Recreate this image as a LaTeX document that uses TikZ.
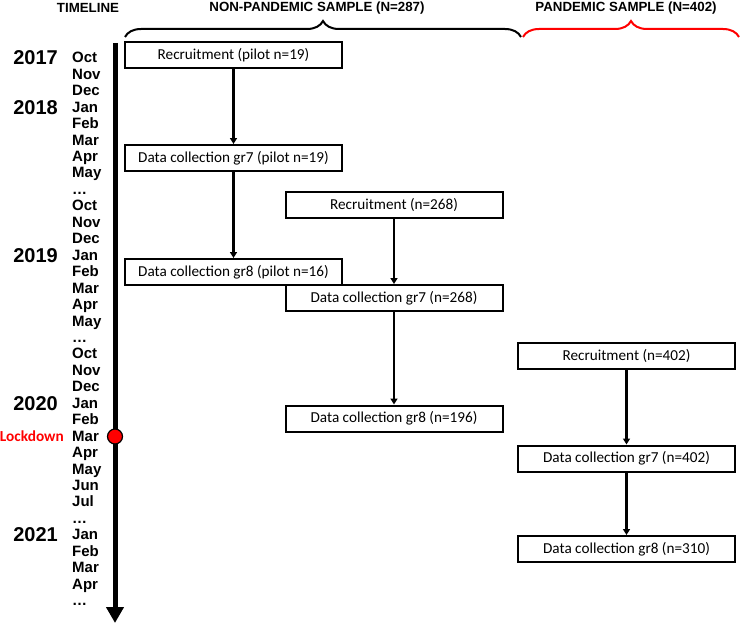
\documentclass[tikz,border=0pt]{standalone}
\usepackage{fontspec}
\setmainfont{Liberation Sans}
\newfontfamily\carlito{Carlito}
\usetikzlibrary{arrows.meta,decorations.pathreplacing}
\begin{document}
\begin{tikzpicture}[x=1pt,y=-1pt,
  box/.style={draw,line width=2pt,minimum width=217pt,minimum height=26pt,inner sep=0pt,
    font=\carlito\fontsize{15.2}{16}\selectfont},
  flow/.style={line width=2.1pt,-{Triangle[width=7pt,length=6pt]}},
  month/.style={anchor=base west,inner sep=0pt,font=\bfseries\fontsize{15}{15}\selectfont},
  year/.style={anchor=base east,inner sep=0pt,font=\bfseries\fontsize{20}{20}\selectfont},
  head/.style={inner sep=0pt,font=\bfseries\fontsize{13.3}{13}\selectfont},
  bracek/.style={line width=2pt,decorate,decoration={brace,amplitude=16pt}}]
\useasboundingbox (0,0) rectangle (744,626);
% headers
\node[head] (hTL) at (88,8) {TIMELINE};
\node[head] (hNP) at (317,8) {NON-PANDEMIC SAMPLE (N=287)};
\node[head] (hP) at (626,8) {PANDEMIC SAMPLE (N=402)};
\coordinate (b1l) at (125,37); \coordinate (b1r) at (521,37);
\coordinate (b2l) at (523,37); \coordinate (b2r) at (739,37);
\draw[bracek] (b1l) -- (b1r);
\draw[bracek,red] (b2l) -- (b2r);
% timeline
\coordinate (tTop) at (115,43); \coordinate (tBot) at (115,623);
\draw[line width=5pt,-{Triangle[width=17pt,length=16pt]}] (tTop) -- (tBot);
\node[circle,draw,fill=red,line width=1.2pt,minimum size=15pt,inner sep=0pt] (lock) at (115,436.5) {};
% months
\foreach \m [count=\i from 0] in {Oct,Nov,Dec,Jan,Feb,Mar,Apr,May,…,Oct,Nov,Dec,Jan,Feb,Mar,Apr,May,…,Oct,Nov,Dec,Jan,Feb,Mar,Apr,May,Jun,Jul,…,Jan,Feb,Mar,Apr,…}{
  \node[month] (m\i) at (72,{57.5+16.45*\i+5.3}) {\m};
}
\foreach \y/\r in {2017/0,2018/3,2019/12,2020/21,2021/29}{
  \node[year] (y\y) at (58,{57.5+16.45*\r+7.2}) {\y};
}
\node[anchor=base east,inner sep=0pt,text=red,font=\carlito\bfseries\fontsize{15.3}{16}\selectfont] (lockT) at (64,{57.5+16.45*23+5.2}) {Lockdown};
% boxes
\node[box] (r19) at (233.5,55) {Recruitment (pilot n=19)};
\node[box] (g7p) at (233.5,158) {Data collection gr7 (pilot n=19)};
\node[box] (r268) at (394,205) {Recruitment (n=268)};
\node[box] (g8p) at (233.5,272) {Data collection gr8 (pilot n=16)};
\node[box] (g7a) at (394,298) {Data collection gr7 (n=268)};
\node[box] (g8a) at (394,418.5) {Data collection gr8 (n=196)};
\node[box] (r402) at (626.5,356) {Recruitment (n=402)};
\node[box] (g7b) at (626.5,458.5) {Data collection gr7 (n=402)};
\node[box] (g8b) at (626.5,549) {Data collection gr8 (n=310)};
% arrows
\draw[flow] (r19) -- (g7p);
\draw[flow] (g7p) -- (g8p);
\draw[flow] (r268) -- (g7a);
\draw[flow] (g7a) -- (g8a);
\draw[flow] (r402) -- (g7b);
\draw[flow] (g7b) -- (g8b);
\end{tikzpicture}
\end{document}
